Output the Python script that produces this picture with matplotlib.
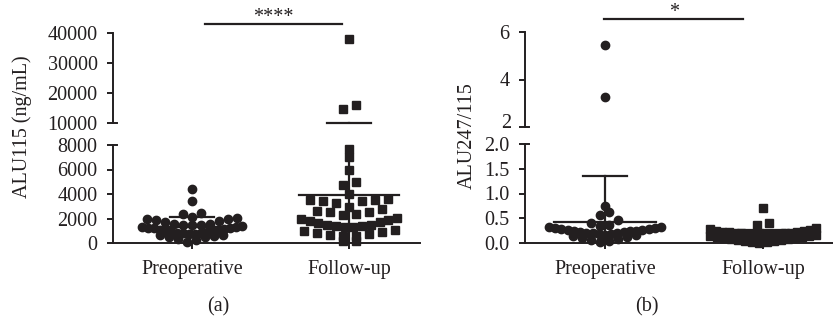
import numpy as np
import matplotlib.pyplot as plt

plt.rcParams['font.family'] = ['Liberation Serif', 'DejaVu Serif']
plt.rcParams['font.size'] = 14.5

groups = ['Preoperative', 'Follow-up']

# panel (a): ALU115 (ng/mL)
alu115_pre = [100, 250, 350, 450, 520, 580, 630, 680,
              720, 750, 780, 800, 850, 880, 900, 950, 1000, 1050, 1100, 1150, 1200,
              1220, 1250, 1300, 1330, 1370,
              1450, 1480, 1500, 1520, 1550, 1700, 1800, 1900, 1950, 2000, 2050, 2100,
              2400, 2450, 3450, 4400]
alu115_fu = [150, 200, 550, 600, 650, 750, 850, 900, 950, 1050,
             1300, 1320, 1350, 1400, 1450, 1500, 1600, 1700, 1800, 1900, 2000, 2050,
             2300, 2400, 2500, 2500, 2600, 2800, 2900,
             3300, 3400, 3450, 3500, 3550, 3600, 4000,
             4750, 4950, 6000, 7000, 7700, 14700, 16000, 38000]
alu115_mean = [1300, 3900]
alu115_sd = [850, 6100]

# panel (b): ALU247/115
ratio_pre = [0.03, 0.05, 0.07, 0.09, 0.11, 0.12, 0.14, 0.16,
             0.17, 0.18, 0.19, 0.20, 0.21, 0.21, 0.22, 0.23, 0.24, 0.25, 0.25, 0.26,
             0.27, 0.28, 0.29, 0.30, 0.31, 0.32, 0.33,
             0.34, 0.36, 0.40, 0.46, 0.57, 0.62, 0.75, 3.25, 5.45]
ratio_fu = [0.01, 0.02, 0.03, 0.04, 0.05, 0.06, 0.07, 0.08, 0.09, 0.10, 0.11, 0.12,
            0.13, 0.14, 0.15, 0.16,
            0.17, 0.175, 0.18, 0.185, 0.19, 0.19, 0.20, 0.20, 0.21, 0.21, 0.22, 0.22,
            0.23, 0.24, 0.25, 0.26, 0.28, 0.30, 0.36, 0.40, 0.70]
ratio_mean = [0.43, 0.18]
ratio_sd = [0.92, 0.09]

W, H = 833, 323
ink = '#231f20'

fig = plt.figure(figsize=(W / 100, H / 100), dpi=100)


def box(l, r, t, b):
    return fig.add_axes([l / W, (H - b) / H, (r - l) / W, (b - t) / H])


def spread(vals, rows, gap, half):
    # prism-like scatter: points of one row side by side, lowest in the middle,
    # squeezed together when the row gets wider than the column
    vals = np.asarray(vals, float)
    off = np.zeros(len(vals))
    for r in np.unique(rows):
        idx = np.where(rows == r)[0]
        idx = idx[np.argsort(vals[idx])]
        n = len(idx)
        g = gap if n < 2 else min(gap, 2 * half / (n - 1))
        slots = np.arange(n) - (n - 1) / 2
        slots = slots[np.argsort(np.abs(slots), kind='stable')]
        off[idx] = slots * g
    return off


def hline(ax, y, x0, x1):
    lo_, hi_ = ax.get_ylim()
    if lo_ <= y <= hi_:
        ax.plot([x0, x1], [y, y], color=ink, lw=1.6, clip_on=False, zorder=4)


def panel(lo, up, data, means, sds, rows, starts, up_row, gaps, halfs, ppu):
    split = up.get_ylim()[0]
    markers = ['o', 's']
    for i, vals in enumerate(data):
        vals = np.asarray(vals, float)
        low = vals < split
        bins = np.where(low, np.floor((vals - starts[i]) / rows[i]),
                        1000 + np.floor(vals / up_row))
        x = i + spread(vals, bins, gaps[i] / ppu, halfs[i] / ppu)
        mk = markers[i]
        lo.plot(x[low], vals[low], mk, color=ink, ms=6, ls='none', clip_on=False, zorder=3)
        up.plot(x[~low], vals[~low], mk, color=ink, ms=6, ls='none', clip_on=False, zorder=3)
        m, s = means[i], sds[i]
        for ax in (lo, up):
            ax.plot([i, i], [m - s, m + s], color=ink, lw=1.6, zorder=4)
            hline(ax, m, i - 0.32, i + 0.32)
            hline(ax, m + s, i - 0.14, i + 0.14)
            hline(ax, m - s, i - 0.14, i + 0.14)


def style(lo, up, xlim):
    for ax in (lo, up):
        ax.set_xlim(xlim)
        ax.spines[['top', 'right']].set_visible(False)
        for side in ('left', 'bottom'):
            ax.spines[side].set_linewidth(1.4)
            ax.spines[side].set_color(ink)
        ax.tick_params(direction='out', length=4, width=1.4, color=ink,
                       labelcolor=ink, pad=7)
    up.spines['bottom'].set_visible(False)
    up.set_xticks([])
    lo.set_xticks([0, 1], groups)
    lo.tick_params(axis='x', pad=8)
    # little caps where the axis is broken
    up.plot([0, 0.014], [0, 0], color=ink, lw=1.4, transform=up.transAxes, clip_on=False)
    lo.plot([0, 0.014], [1, 1], color=ink, lw=1.4, transform=lo.transAxes, clip_on=False)


# ---- (a)
a_up = box(113, 420, 33, 123)
a_lo = box(113, 420, 145, 243)
a_up.set_ylim(10000, 40000)
a_lo.set_ylim(0, 8000)
a_up.set_yticks([10000, 20000, 30000, 40000])
a_lo.set_yticks([0, 2000, 4000, 6000, 8000])
style(a_lo, a_up, (-0.503, 1.452))
panel(a_lo, a_up, [alu115_pre, alu115_fu], alu115_mean, alu115_sd,
      rows=[700, 800], starts=[0, 500], up_row=10000,
      gaps=[9, 13], halfs=[50, 48], ppu=157)

# ---- (b)
b_up = box(525, 833, 32, 127)
b_lo = box(525, 833, 144, 243)
b_up.set_ylim(2, 6)
b_lo.set_ylim(0, 2.0)
b_up.set_yticks([2, 4, 6], ['', '4', '6'])
b_lo.set_yticks([0.0, 0.5, 1.0, 1.5, 2.0], ['0.0', '0.5', '1.0', '1.5', '2.0'])
style(b_lo, b_up, (-0.506, 1.443))
panel(b_lo, b_up, [ratio_pre, ratio_fu], ratio_mean, ratio_sd,
      rows=[0.17, 0.17], starts=[0, 0], up_row=1,
      gaps=[9, 12], halfs=[56, 53], ppu=158)
# the "2" of the upper scale sits a bit higher so it clears "2.0"
b_up.annotate('2', xy=(0, 2), xycoords=('axes fraction', 'data'), xytext=(-10, 2.2),
              textcoords='offset points', ha='right', va='center', color=ink)

# significance bars
tr = a_up.get_xaxis_transform()
a_up.plot([0.083, 0.955], [1.1, 1.1], color=ink, lw=1.6, transform=tr, clip_on=False)
a_up.text(0.516, 1.122, '****', transform=tr, ha='center', va='baseline', color=ink)
tr = b_up.get_xaxis_transform()
b_up.plot([-0.006, 0.874], [1.137, 1.137], color=ink, lw=1.6, transform=tr, clip_on=False)
b_up.text(0.437, 1.16, '*', transform=tr, ha='center', va='baseline', color=ink)

# axis titles and panel letters
fig.text(22 / W, 1 - 127 / H, 'ALU115 (ng/mL)', rotation=90, ha='center', va='center', color=ink)
fig.text(467 / W, 1 - 136 / H, 'ALU247/115', rotation=90, ha='center', va='center', color=ink)
fig.text(218 / W, 1 - 307 / H, '(a)', ha='center', va='center', color=ink)
fig.text(647 / W, 1 - 307 / H, '(b)', ha='center', va='center', color=ink)

fig.savefig('out.png', dpi=100)
